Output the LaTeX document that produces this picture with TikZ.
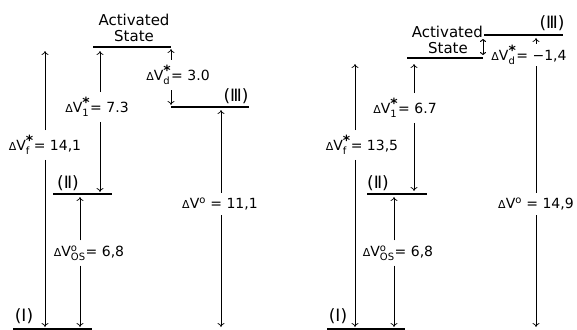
\documentclass[tikz,border=0pt]{standalone}
\usepackage{fontspec}
\setmainfont{DejaVu Sans}
\usetikzlibrary{arrows.meta}
\newcommand\supsb[2]{$^{\mbox{#1}}_{\mbox{\fontsize{10}{10}\selectfont #2}}$}
\newcommand\str{\raisebox{-3pt}{\fontsize{14}{14}\selectfont\bfseries *}}
\newcommand\supo{\fontsize{10}{10}\selectfont o}
\newcommand\dlt{{\fontsize{11}{11}\selectfont Δ}}
\tikzset{
  lvl/.style={line width=2.6pt},
  arr/.style={-{To[length=4pt,width=7pt]}, line width=0.7pt},
  dbl/.style={{To[length=3pt,width=6pt]}-{To[length=3pt,width=6pt]}, line width=1pt},
  lab/.style={font=\fontsize{14}{14}\selectfont, inner xsep=1pt, inner ysep=5pt},
  ttl/.style={font=\fontsize{15}{15}\selectfont, inner sep=0pt},
  rom/.style={font=\fontsize{17}{17}\selectfont, inner sep=0pt}
}
\begin{document}
\begin{tikzpicture}[x=1pt,y=-1pt]
\useasboundingbox (0,0) rectangle (577,329);
% ---------------- left panel ----------------
\coordinate (LASa) at (93,47);   \coordinate (LASb) at (171,47);
\coordinate (LIIIa) at (171,107); \coordinate (LIIIb) at (249,107);
\coordinate (LIIa) at (53,194);  \coordinate (LIIb) at (112,194);
\coordinate (LIa) at (13,329.6); \coordinate (LIb) at (92,329.6);
\draw[lvl] (LASa) -- (LASb);
\draw[lvl] (LIIIa) -- (LIIIb);
\draw[lvl] (LIIa) -- (LIIb);
\draw[lvl] (LIa) -- (LIb);
\node[ttl] (Lact) at (134,20) {Activated};
\node[ttl] (Lsta) at (134,36) {State};
\node[rom] (LIIIt) at (236,96) {(Ⅲ)};
\node[rom] (LIIt) at (68,183) {(Ⅱ)};
\node[rom] (LIt) at (24,316) {(Ⅰ)};
\coordinate (LfT) at (45,51);  \coordinate (LfB) at (45,327);
\coordinate (L1T) at (100,51); \coordinate (L1B) at (100,192);
\coordinate (LdT) at (171,49); \coordinate (LdB) at (171,105);
\coordinate (LoT) at (221,110); \coordinate (LoB) at (221,327);
\coordinate (LsT) at (80,197); \coordinate (LsB) at (80,327);
\node[lab] (Lf) at (45,145) {\dlt V\supsb{\str}{f}= 14,1};
\node[lab] (L1) at (97,107) {\dlt V\supsb{\str}{1}= 7.3};
\node[lab] (Ld) at (178,75) {\dlt V\supsb{\str}{d}= 3.0};
\node[lab] (Lo) at (220,204) {\dlt V$^{\mbox{\supo}}$ = 11,1};
\node[lab] (Ls) at (89,253) {\dlt V\supsb{\supo}{OS}= 6,8};
\draw[arr] (Lf.north -| LfT) -- (LfT);
\draw[arr] (Lf.south -| LfB) -- (LfB);
\draw[arr] (L1.north -| L1T) -- (L1T);
\draw[arr] (L1.south -| L1B) -- (L1B);
\draw[arr] (Ld.north -| LdT) -- (LdT);
\draw[arr] (Ld.south -| LdB) -- (LdB);
\draw[arr] (Lo.north -| LoT) -- (LoT);
\draw[arr] (Lo.south -| LoB) -- (LoB);
\draw[arr] (Ls.north -| LsT) -- (LsT);
\draw[arr] (Ls.south -| LsB) -- (LsB);
% ---------------- right panel ----------------
\coordinate (RASa) at (407,58);  \coordinate (RASb) at (483,58);
\coordinate (RIIIa) at (484,35); \coordinate (RIIIb) at (563,35);
\coordinate (RIIa) at (367,194); \coordinate (RIIb) at (427,194);
\coordinate (RIa) at (327,329.6); \coordinate (RIb) at (405,329.6);
\draw[lvl] (RASa) -- (RASb);
\draw[lvl] (RIIIa) -- (RIIIb);
\draw[lvl] (RIIa) -- (RIIb);
\draw[lvl] (RIa) -- (RIb);
\node[ttl,anchor=east] (Ract) at (483,32) {Activated};
\node[ttl,anchor=east] (Rsta) at (468,48) {State};
\node[rom] (RIIIt) at (552,23) {(Ⅲ)};
\node[rom] (RIIt) at (378,183) {(Ⅱ)};
\node[rom] (RIt) at (338,316) {(Ⅰ)};
\coordinate (RfT) at (355,64);  \coordinate (RfB) at (355,327);
\coordinate (R1T) at (414,64);  \coordinate (R1B) at (414,191);
\coordinate (RoT) at (536,38);  \coordinate (RoB) at (536,327);
\coordinate (RsT) at (394,197); \coordinate (RsB) at (394,327);
\coordinate (RdT) at (483,39);  \coordinate (RdB) at (483,55);
\node[lab] (Rf) at (362,145) {\dlt V\supsb{\str}{f}= 13,5};
\node[lab] (R1) at (405,108) {\dlt V\supsb{\str}{1}= 6.7};
\node[lab] (Ro) at (536,204) {\dlt V$^{\mbox{\supo}}$ = 14,9};
\node[lab] (Rs) at (398,253) {\dlt V\supsb{\supo}{OS}= 6,8};
\draw[arr] (Rf.north -| RfT) -- (RfT);
\draw[arr] (Rf.south -| RfB) -- (RfB);
\draw[arr] (R1.north -| R1T) -- (R1T);
\draw[arr] (R1.south -| R1B) -- (R1B);
\draw[arr] (Ro.north -| RoT) -- (RoT);
\draw[arr] (Ro.south -| RoB) -- (RoB);
\draw[arr] (Rs.north -| RsT) -- (RsT);
\draw[arr] (Rs.south -| RsB) -- (RsB);
\draw[dbl] (RdT) -- (RdB);
\node[lab, fill=white, inner ysep=1pt] (Rd) at (529,55) {\dlt V\supsb{\str}{d}= −1,4};
\end{tikzpicture}
\end{document}
